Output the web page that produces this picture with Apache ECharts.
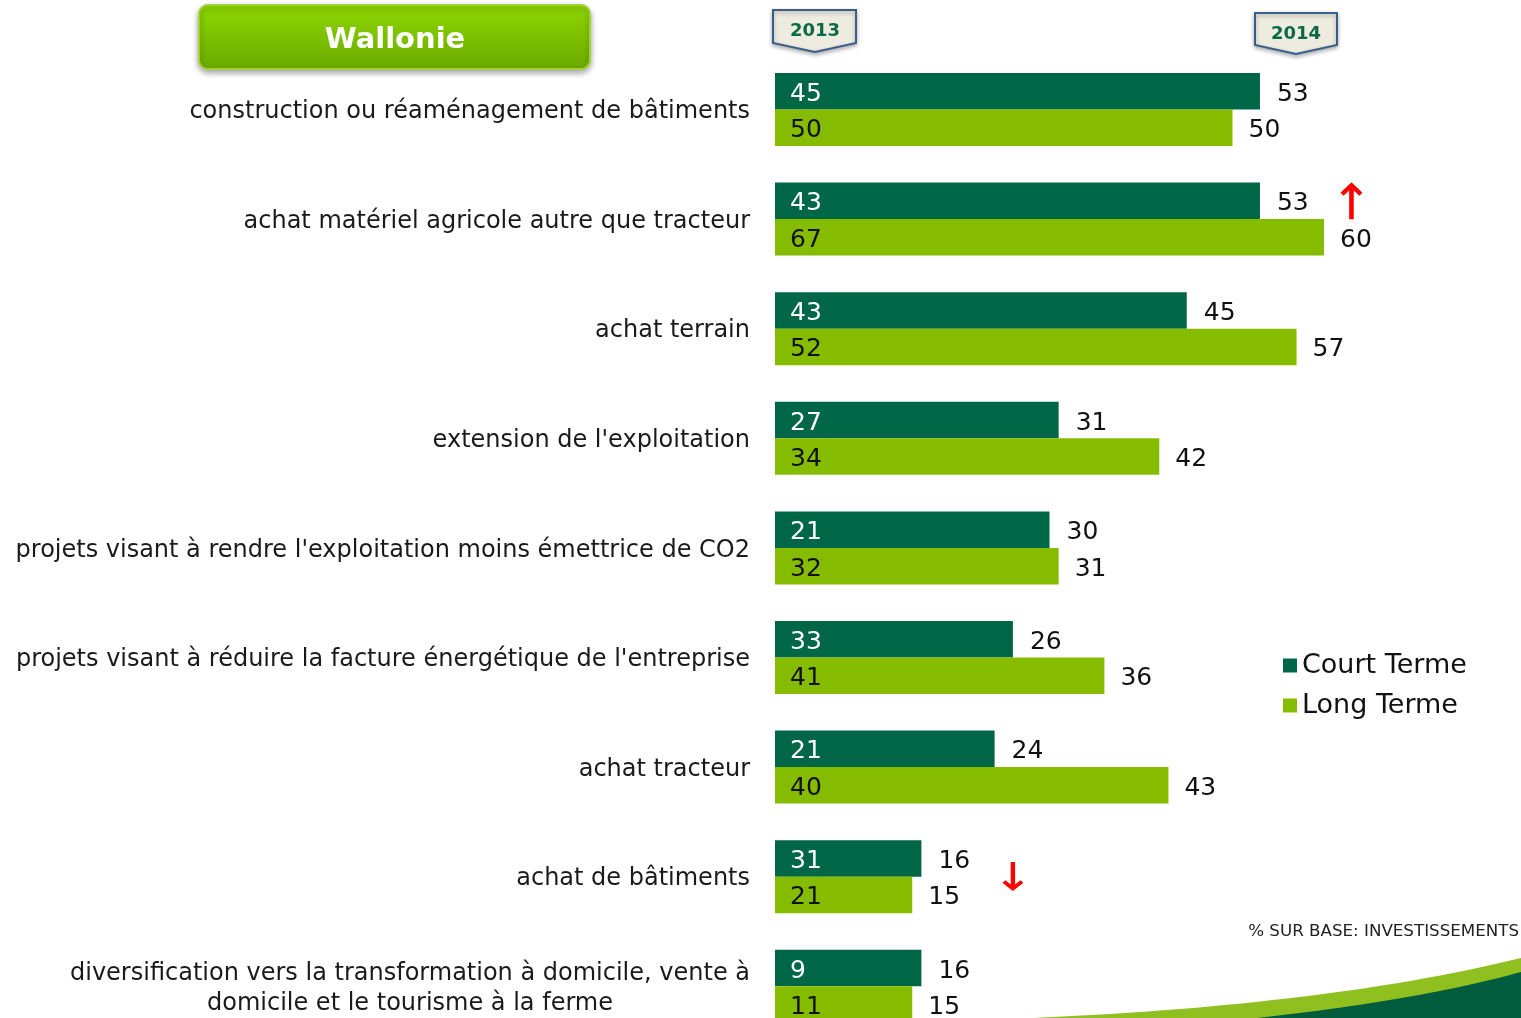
<!DOCTYPE html>
<html>
<head>
<meta charset="utf-8">
<script src="https://cdn.jsdelivr.net/npm/echarts@6/dist/echarts.min.js"></script>
<style>
  html, body { margin: 0; padding: 0; background: #fff; overflow: hidden; }
  #main { width: 1521px; height: 1060px; }
</style>
</head>
<body>
<div id="main"></div>
<script>
// catégories (de haut en bas)
const categories = [
  "construction ou réaménagement de bâtiments",
  "achat matériel agricole autre que tracteur",
  "achat terrain",
  "extension de l'exploitation",
  "projets visant à rendre l'exploitation moins émettrice de CO2",
  "projets visant à réduire la facture énergétique de l'entreprise",
  "achat tracteur",
  "achat de bâtiments",
  "diversification vers la transformation à domicile, vente à\ndomicile et le tourisme à la ferme"
];
// 2014 (longueur des barres + étiquette à droite)
const court2014 = [53, 53, 45, 31, 30, 26, 24, 16, 16];
const long2014  = [50, 60, 57, 42, 31, 36, 43, 15, 15];
// 2013 (étiquette dans la barre)
const court2013 = [45, 43, 43, 27, 21, 33, 21, 31, 9];
const long2013  = [50, 67, 52, 34, 32, 41, 40, 21, 11];

const DARK = '#006746';
const LIGHT = '#86bc00';
const FONT = 'DejaVu Sans';

const chart = echarts.init(document.getElementById('main'));

// courbe décorative en bas à droite (quadratique -> polygone)
function swoosh(x0, y0, cx, cy, x1, y1) {
  const pts = [];
  for (let i = 0; i <= 30; i++) {
    const t = i / 30;
    pts.push([
      (1 - t) * (1 - t) * x0 + 2 * (1 - t) * t * cx + t * t * x1,
      (1 - t) * (1 - t) * y0 + 2 * (1 - t) * t * cy + t * t * y1
    ]);
  }
  pts.push([1521, 1030], [x0, 1030]);
  return pts;
}

const catAxis = {
  type: 'category',
  inverse: true,
  data: categories,
  axisLine: { show: false },
  axisTick: { show: false },
  splitLine: { show: false }
};

const numLabel = { fontSize: 25, fontFamily: FONT, offset: [0, 3] };

const option = {
  animation: false,
  textStyle: { fontFamily: FONT },
  grid: { left: 775, right: 14, top: 54.7, bottom: 18.9, containLabel: false },
  xAxis: { type: 'value', min: 0, max: 80, show: false },
  yAxis: [
    Object.assign({}, catAxis, {
      axisLabel: {
        margin: 25,
        fontSize: 24,
        color: '#1a1a1a',
        fontFamily: FONT,
        padding: [5, 0, 0, 0],
        formatter: function (v) {
          if (v.indexOf('\n') < 0) return v;
          return v.split('\n').map(s => '{c|' + s + '}').join('\n');
        },
        rich: {
          c: { align: 'center', fontSize: 24, lineHeight: 30, color: '#1a1a1a', fontFamily: FONT }
        }
      }
    }),
    Object.assign({}, catAxis, { show: false })
  ],
  legend: {
    data: ['Court Terme', 'Long Terme'],
    orient: 'vertical',
    left: 1278,
    top: 647,
    itemWidth: 14,
    itemHeight: 14,
    itemGap: 13,
    icon: 'rect',
    textStyle: { fontSize: 27, color: '#111', fontFamily: FONT, lineHeight: 26 }
  },
  series: [
    {
      name: 'Court Terme',
      type: 'bar',
      yAxisIndex: 0,
      data: court2014,
      barWidth: 36.5,
      barGap: '0%',
      itemStyle: { color: DARK },
      label: Object.assign({ show: true, position: 'right', distance: 17, color: '#111' }, numLabel),
      markPoint: {
        symbol: 'path://M11,0 L21.5,10.5 L18.5,13.5 L13.2,8.2 L13.2,37 L8.8,37 L8.8,8.2 L3.5,13.5 L0.5,10.5 Z',
        symbolKeepAspect: false,
        label: { show: false },
        itemStyle: { color: '#ff0000' },
        data: [
          { coord: [63, categories[1]], symbolSize: [22, 37] },
          { coord: [26, categories[7]], symbolSize: [21, 29], symbolRotate: 180, symbolOffset: [0, 18] }
        ]
      }
    },
    {
      name: 'Long Terme',
      type: 'bar',
      yAxisIndex: 0,
      data: long2014,
      barWidth: 36.5,
      barGap: '0%',
      itemStyle: { color: LIGHT },
      label: Object.assign({ show: true, position: 'right', distance: 16, color: '#111' }, numLabel)
    },
    {
      name: 'ct2013',
      type: 'bar',
      yAxisIndex: 1,
      data: court2014,
      barWidth: 36.5,
      barGap: '0%',
      silent: true,
      itemStyle: { color: 'rgba(0,0,0,0)' },
      label: Object.assign({
        show: true, position: 'insideLeft', distance: 15, color: '#fff',
        formatter: p => court2013[p.dataIndex]
      }, numLabel)
    },
    {
      name: 'lt2013',
      type: 'bar',
      yAxisIndex: 1,
      data: long2014,
      barWidth: 36.5,
      barGap: '0%',
      silent: true,
      itemStyle: { color: 'rgba(0,0,0,0)' },
      label: Object.assign({
        show: true, position: 'insideLeft', distance: 15, color: '#111',
        formatter: p => long2013[p.dataIndex]
      }, numLabel)
    }
  ],
  graphic: [
    // bandeau titre
    {
      type: 'rect',
      shape: { x: 199, y: 5, width: 391, height: 64, r: 9 },
      style: {
        fill: new echarts.graphic.LinearGradient(0, 0, 0, 1, [
          { offset: 0, color: '#8fd800' },
          { offset: 1, color: '#6aa900' }
        ]),
        stroke: '#9fd232',
        lineWidth: 2,
        shadowBlur: 6,
        shadowOffsetY: 3,
        shadowColor: 'rgba(0,0,0,0.35)'
      }
    },
    {
      type: 'text',
      style: {
        x: 395, y: 40, text: 'Wallonie', fill: '#fff',
        font: 'bold 29px "DejaVu Sans"', textAlign: 'center', textVerticalAlign: 'middle'
      }
    },
    // onglets années
    {
      type: 'polygon',
      shape: { points: [[773, 10], [856, 10], [856, 43], [815, 52], [773, 43]] },
      style: { fill: '#eeece1', stroke: '#3a5e8c', lineWidth: 2, shadowBlur: 4, shadowOffsetY: 2, shadowColor: 'rgba(0,0,0,0.3)' }
    },
    {
      type: 'text',
      style: { x: 815, y: 31, text: '2013', fill: '#0b6a45', font: 'bold 18px "DejaVu Sans"', textAlign: 'center', textVerticalAlign: 'middle' }
    },
    {
      type: 'polygon',
      shape: { points: [[1255, 13], [1337, 13], [1337, 45], [1296, 54], [1255, 45]] },
      style: { fill: '#eeece1', stroke: '#3a5e8c', lineWidth: 2, shadowBlur: 4, shadowOffsetY: 2, shadowColor: 'rgba(0,0,0,0.3)' }
    },
    {
      type: 'text',
      style: { x: 1296, y: 34, text: '2014', fill: '#0b6a45', font: 'bold 18px "DejaVu Sans"', textAlign: 'center', textVerticalAlign: 'middle' }
    },
    // note de base
    {
      type: 'text',
      style: { x: 1519, y: 932, text: '% SUR BASE: INVESTISSEMENTS', fill: '#222', font: '16.7px "DejaVu Sans"', textAlign: 'right', textVerticalAlign: 'middle' }
    },
    // vague décorative
    {
      type: 'polygon',
      shape: { points: swoosh(1033, 1018, 1330, 1005, 1521, 958) },
      style: { fill: '#8fc01f' }
    },
    {
      type: 'polygon',
      shape: { points: swoosh(1257, 1018, 1420, 1000, 1521, 972) },
      style: { fill: '#005c3c' }
    }
  ]
};

chart.setOption(option);
</script>
</body>
</html>
